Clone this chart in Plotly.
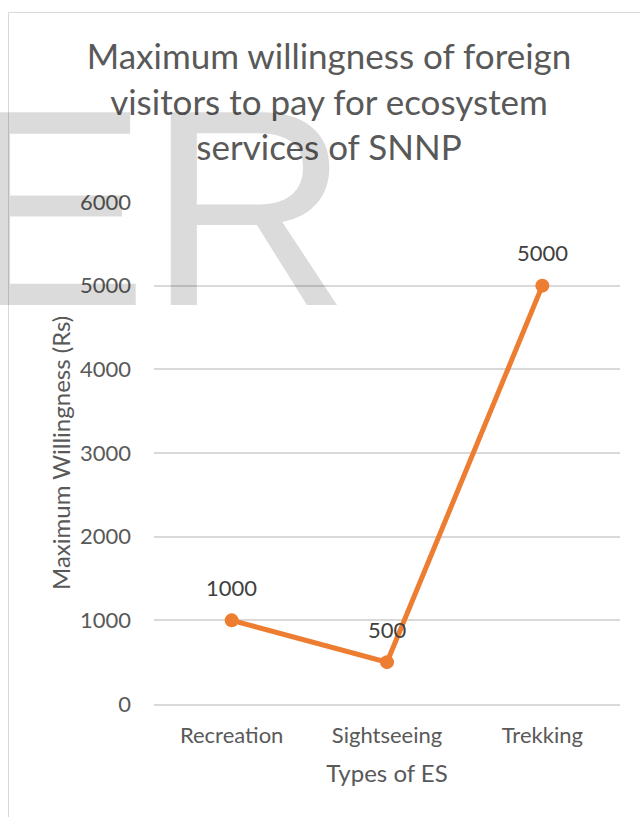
import plotly.graph_objects as go

categories = ["Recreation", "Sightseeing", "Trekking"]
values = [1000, 500, 5000]
y_ticks = [0, 1000, 2000, 3000, 4000, 5000, 6000]

title_text = "Maximum willingness of foreign<br>visitors to pay for ecosystem<br>services of SNNP"
x_title = "Types of ES"
y_title = "Maximum Willingness (Rs)"
watermark = "ER"

W, H = 640, 817
L, R, T, B = 154, 20, 202, 113
pw, ph = W - L - R, H - T - B

def px_x(p):
    return (p - L) / pw

def px_y(p):
    return (H - B - p) / ph

FONT = "Lato"
GREY = "#595959"

fig = go.Figure()
fig.add_trace(go.Scatter(
    x=categories, y=values, mode="lines+markers",
    line=dict(color="#ED7D31", width=5),
    marker=dict(color="#ED7D31", size=14),
    showlegend=False, hoverinfo="x+y",
))

annotations = []
for c, v in zip(categories, values):
    annotations.append(dict(
        x=c, y=v, xref="x", yref="y", text=str(v), showarrow=False,
        yshift=33, font=dict(family=FONT, size=22, color="#404040"),
    ))

# y-axis title
annotations.append(dict(
    x=px_x(60), y=0.5, xref="paper", yref="paper",
    xanchor="center", yanchor="middle", textangle=-90,
    text=y_title, showarrow=False,
    font=dict(family=FONT, size=24, color=GREY),
))

annotations.append(dict(
    x=px_x(-41), y=px_y(50), xref="paper", yref="paper",
    xanchor="left", yanchor="top", text=watermark, showarrow=False,
    font=dict(family="Liberation Sans", size=280, color="rgba(0,0,0,0.14)"),
))

fig.update_layout(
    width=W, height=H,
    margin=dict(l=L, r=R, t=T, b=B, autoexpand=False),
    paper_bgcolor="white", plot_bgcolor="white",
    title=dict(text=title_text, x=329 / W, xanchor="center", xref="container",
               y=1 - 69 / H, yanchor="top", yref="container",
               font=dict(family=FONT, size=35, color=GREY)),
    xaxis=dict(
        range=[-0.5, 2.5], automargin=False,
        showgrid=False, showline=True, linecolor="#d9d9d9", linewidth=1.5,
        ticks="", tickfont=dict(family=FONT, size=22, color=GREY),
        ticklabelstandoff=11,
        title=dict(text=x_title, font=dict(family=FONT, size=24, color=GREY), standoff=18),
    ),
    yaxis=dict(
        range=[0, 6000], tickvals=y_ticks, automargin=False,
        showgrid=True, gridcolor="#d9d9d9", gridwidth=1.5,
        zeroline=False, showline=False, ticks="",
        tickfont=dict(family=FONT, size=22, color=GREY),
        ticklabelstandoff=22,
    ),
    annotations=annotations,
    shapes=[dict(type="rect", xref="paper", yref="paper",
                 x0=px_x(8.5), x1=px_x(700), y0=px_y(900), y1=px_y(12.5),
                 line=dict(color="#d9d9d9", width=1), layer="below")],
)

fig.write_html("out.html", config={"displayModeBar": False},
               post_script="document.body.style.margin='0';")
